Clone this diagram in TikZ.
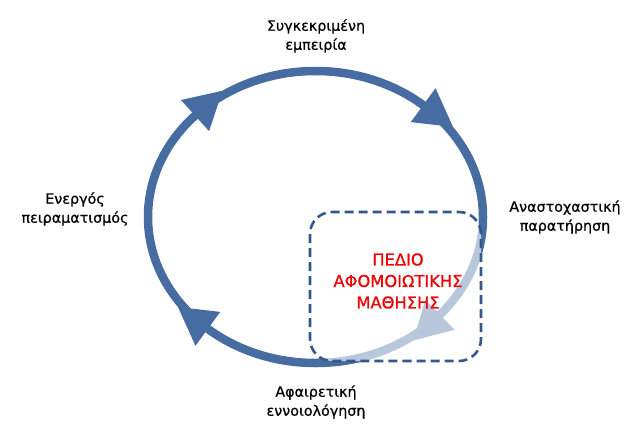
\documentclass[tikz,border=0pt]{standalone}
\usepackage{fontspec}
\setmainfont{DejaVu Sans}
\newfontfamily\labelfont[FakeBold=0.6]{DejaVu Sans}
\newfontfamily\fieldfont[FakeBold=0.8]{DejaVu Sans}
\usetikzlibrary{calc}
\definecolor{ringblue}{RGB}{70,108,162}
\definecolor{boxblue}{RGB}{52,88,138}
\definecolor{fieldred}{RGB}{240,0,0}
\tikzset{
  ring/.style={draw=ringblue, line width=8.5pt},
  stagelabel/.style={align=center, font=\labelfont\fontsize{14.3}{19}\selectfont, inner sep=0pt},
  fieldbox/.style={draw=boxblue, line width=2.6pt, dash pattern=on 9pt off 5pt,
    rounded corners=22pt, fill=white, fill opacity=0.62},
  fieldlabel/.style={align=center, text=fieldred, font=\fieldfont\fontsize{16.3}{21.5}\selectfont, inner sep=0pt}
}
\begin{document}
\begin{tikzpicture}[x=1pt, y=-1pt]
\useasboundingbox (0,0) rectangle (631,426);

% learning cycle: an elliptic ring with four arrowheads, clockwise
\coordinate (C) at (315.5,217);
\draw[ring] (C) ellipse [x radius=167.5pt, y radius=146pt];
\foreach \t in {50,136,230,-42} {
  \pgfmathsetmacro\bx{315.5+167.5*cos(\t)}
  \pgfmathsetmacro\by{217-146*sin(\t)}
  \pgfmathsetmacro\tx{167.5*sin(\t)}
  \pgfmathsetmacro\ty{146*cos(\t)}
  \pgfmathsetmacro\len{veclen(\tx,\ty)}
  \pgfmathsetmacro\ux{\tx/\len}
  \pgfmathsetmacro\uy{\ty/\len}
  \fill[ringblue] (\bx+37*\ux,\by+37*\uy) -- (\bx-21*\uy,\by+21*\ux)
     -- (\bx+21*\uy,\by-21*\ux) -- cycle;
}

% field of assimilative learning
\draw[fieldbox] (310,212) rectangle (481,361);
\node[fieldlabel] (field) at (398,281) {ΠΕΔΙΟ\\ΑΦΟΜΟΙΩΤΙΚΗΣ\\ΜΑΘΗΣΗΣ};

% stage labels
\node[stagelabel] (concrete) at (316,36) {Συγκεκριμένη\\εμπειρία};
\node[stagelabel] (reflective) at (565,217) {Αναστοχαστική\\παρατήρηση};
\node[stagelabel] (abstract) at (316,402) {Αφαιρετική\\εννοιολόγηση};
\node[stagelabel] (active) at (75,209) {Ενεργός\\πειραματισμός};
\end{tikzpicture}
\end{document}
